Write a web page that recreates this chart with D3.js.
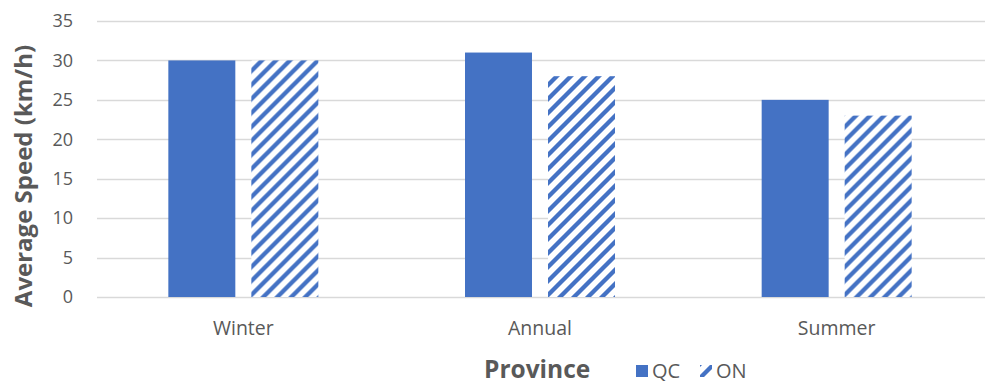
<!DOCTYPE html>
<html>
<head>
<meta charset="utf-8">
<script src="https://cdn.jsdelivr.net/npm/d3@7"></script>
<style>
  html, body { margin: 0; padding: 0; background: #ffffff; }
  svg { display: block; font-family: "Open Sans", "Noto Sans", sans-serif; }
</style>
</head>
<body>
<svg id="chart" width="988" height="385"></svg>
<script>
// Average speed by season for each province
const categories = ["Winter", "Annual", "Summer"];
const seriesNames = ["QC", "ON"];
const qcValues = [30, 31, 25];
const onValues = [30, 28, 23];
const yTicks = [0, 5, 10, 15, 20, 25, 30, 35];

const blue = "#4472C4";
const textGray = "#595959";
const gridGray = "#d9d9d9";

const svg = d3.select("#chart");

// Diagonal stripe fill used for the ON series
const defs = svg.append("defs");
const pat = defs.append("pattern")
  .attr("id", "stripes")
  .attr("patternUnits", "userSpaceOnUse")
  .attr("width", 14)
  .attr("height", 14);
pat.append("rect").attr("width", 14).attr("height", 14).attr("fill", "#ffffff");
pat.append("path")
  .attr("d", "M-3.5,3.5 L3.5,-3.5 M0,14 L14,0 M10.5,17.5 L17.5,10.5")
  .attr("stroke", blue)
  .attr("stroke-width", 4.3)
  .attr("stroke-linecap", "square");

const plot = { left: 95, right: 985, top: 21, bottom: 297 };

const x0 = d3.scaleBand()
  .domain(categories)
  .range([plot.left, plot.right])
  .paddingInner(0.4944)
  .paddingOuter(0.2472);

const x1 = d3.scaleBand()
  .domain(seriesNames)
  .range([0, x0.bandwidth()])
  .paddingInner(0.193)
  .paddingOuter(0);

const y = d3.scaleLinear().domain([0, 35]).range([plot.bottom, plot.top]);

// Horizontal gridlines
svg.append("g")
  .selectAll("line")
  .data(yTicks)
  .join("line")
  .attr("x1", plot.left + 2)
  .attr("x2", plot.right)
  .attr("y1", d => Math.round(y(d)) + 0.5)
  .attr("y2", d => Math.round(y(d)) + 0.5)
  .attr("stroke", gridGray)
  .attr("stroke-width", 1.3);

// Y axis tick labels
const yAxis = d3.axisLeft(y).tickValues(yTicks).tickSize(0).tickPadding(0);
const gy = svg.append("g")
  .attr("transform", `translate(${73},0)`)
  .call(yAxis);
gy.select(".domain").remove();
gy.selectAll("text")
  .attr("fill", textGray)
  .attr("font-size", 18)
  .attr("font-family", "'Open Sans', sans-serif");

// Bars
const rows = categories.map((c, i) => ({ cat: c, QC: qcValues[i], ON: onValues[i] }));
const groups = svg.append("g")
  .selectAll("g")
  .data(rows)
  .join("g")
  .attr("transform", d => `translate(${x0(d.cat)},0)`);

groups.selectAll("rect")
  .data(d => seriesNames.map(s => ({ key: s, value: d[s] })))
  .join("rect")
  .attr("x", d => x1(d.key))
  .attr("width", x1.bandwidth())
  .attr("y", d => y(d.value))
  .attr("height", d => y(0) - y(d.value))
  .attr("fill", d => d.key === "QC" ? blue : "url(#stripes)");

// Category labels
const xAxis = d3.axisBottom(x0).tickSize(0).tickPadding(0);
const gx = svg.append("g")
  .attr("transform", `translate(0,${plot.bottom})`)
  .call(xAxis);
gx.select(".domain").remove();
gx.selectAll("text")
  .attr("fill", textGray)
  .attr("font-size", 19.5)
  .attr("font-family", "'Open Sans', sans-serif")
  .attr("dy", null)
  .attr("y", 38);

// Axis titles
svg.append("text")
  .attr("transform", "translate(32,176) rotate(-90)")
  .attr("text-anchor", "middle")
  .attr("fill", textGray)
  .attr("font-weight", "bold")
  .attr("font-size", 24)
  .text("Average Speed (km/h)");

svg.append("text")
  .attr("x", 484)
  .attr("y", 378)
  .attr("fill", textGray)
  .attr("font-weight", "bold")
  .attr("font-size", 24.5)
  .text("Province");

// Legend
const legend = svg.append("g");
const legendItems = [
  { key: "QC", x: 636, fill: blue },
  { key: "ON", x: 700, fill: "url(#stripes)" }
];
legend.selectAll("rect")
  .data(legendItems)
  .join("rect")
  .attr("x", d => d.x)
  .attr("y", 365)
  .attr("width", 12)
  .attr("height", 12)
  .attr("fill", d => d.fill);
legend.selectAll("text")
  .data(legendItems)
  .join("text")
  .attr("x", d => d.x + 16)
  .attr("y", 378)
  .attr("fill", textGray)
  .attr("font-size", 20)
  .text(d => d.key);
</script>
</body>
</html>
